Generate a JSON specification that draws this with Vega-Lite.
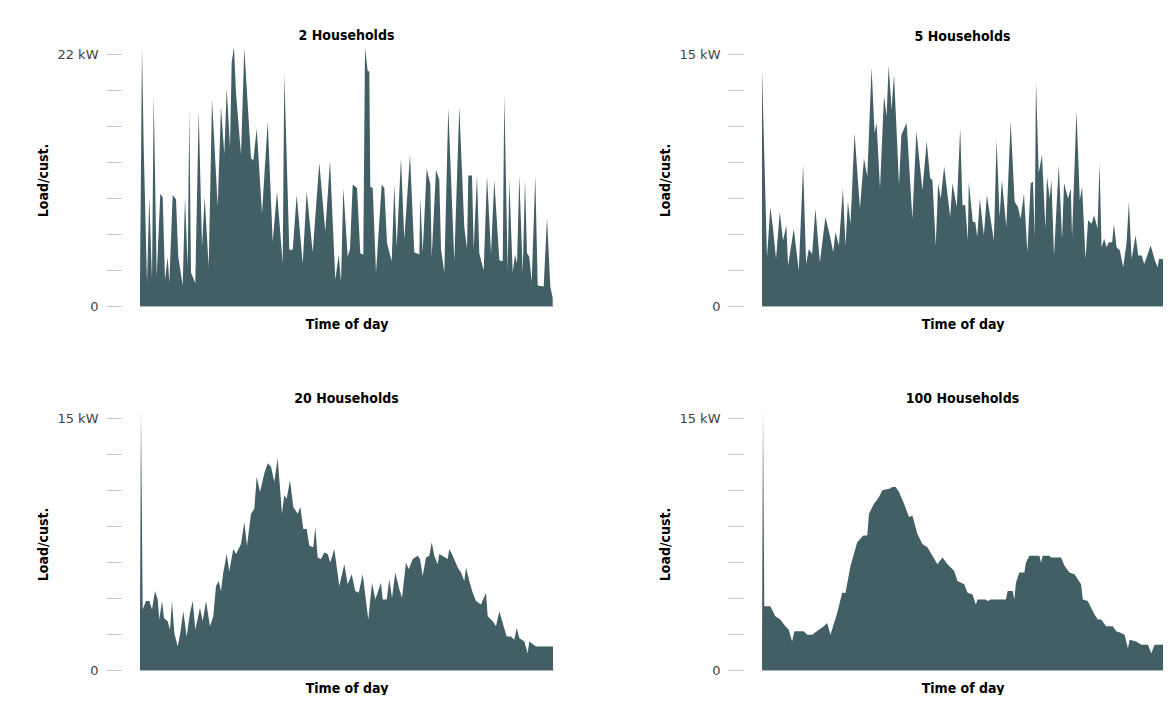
{
  "$schema": "https://vega.github.io/schema/vega-lite/v6.json",
  "padding": {"left": 36, "top": 29, "right": 0, "bottom": 0},
  "background": "white",
  "datasets": {
    "h2": [
      {"t":0,"kw":2.3},{"t":2,"kw":22.6},{"t":3.7,"kw":13.9},{"t":7,"kw":2.0},{"t":9.3,"kw":9.5},{"t":12,"kw":2.3},{"t":13.7,"kw":18.4},{"t":16.7,"kw":2.6},{"t":20.3,"kw":9.8},{"t":22.7,"kw":9.5},{"t":25,"kw":2.3},{"t":27.7,"kw":4.3},{"t":29.3,"kw":2.0},{"t":32.7,"kw":9.7},{"t":36,"kw":9.3},{"t":38.3,"kw":4.3},{"t":42.7,"kw":1.8},{"t":45,"kw":9.5},{"t":47.7,"kw":3.4},{"t":49.3,"kw":17.1},{"t":51,"kw":2.9},{"t":55.3,"kw":2.0},{"t":58.7,"kw":17.0},{"t":62,"kw":5.2},{"t":64.7,"kw":9.5},{"t":68.7,"kw":3.4},{"t":72,"kw":18.1},{"t":77.7,"kw":8.7},{"t":81,"kw":17.4},{"t":84.3,"kw":13.3},{"t":86.7,"kw":19.0},{"t":90,"kw":13.9},{"t":91.7,"kw":21.3},{"t":94,"kw":22.6},{"t":96,"kw":18.6},{"t":101,"kw":13.2},{"t":104.3,"kw":22.5},{"t":111,"kw":12.9},{"t":113.3,"kw":12.7},{"t":116.7,"kw":15.5},{"t":122,"kw":8.1},{"t":127.7,"kw":16.1},{"t":132.7,"kw":5.6},{"t":137,"kw":10.0},{"t":142.7,"kw":3.7},{"t":144.3,"kw":20.3},{"t":149.3,"kw":4.9},{"t":152.7,"kw":4.9},{"t":156.7,"kw":9.7},{"t":162.7,"kw":3.7},{"t":166.7,"kw":10.0},{"t":172.7,"kw":4.7},{"t":179.3,"kw":12.5},{"t":185.3,"kw":6.5},{"t":190,"kw":12.7},{"t":195.3,"kw":2.3},{"t":198.7,"kw":4.5},{"t":201,"kw":2.1},{"t":203.3,"kw":10.3},{"t":207.7,"kw":4.3},{"t":210,"kw":5.0},{"t":212.7,"kw":10.6},{"t":217,"kw":10.3},{"t":220.3,"kw":4.6},{"t":223.3,"kw":4.5},{"t":225,"kw":22.6},{"t":227.7,"kw":20.5},{"t":229.3,"kw":20.5},{"t":230.3,"kw":10.4},{"t":232.7,"kw":10.3},{"t":236,"kw":2.9},{"t":241.7,"kw":10.6},{"t":244.3,"kw":10.3},{"t":247,"kw":5.5},{"t":251.7,"kw":3.9},{"t":254.3,"kw":10.6},{"t":256.7,"kw":5.2},{"t":261,"kw":12.9},{"t":264.3,"kw":5.8},{"t":270,"kw":13.2},{"t":274.3,"kw":4.7},{"t":279.3,"kw":4.5},{"t":280.3,"kw":9.5},{"t":282.7,"kw":4.7},{"t":286.7,"kw":12.0},{"t":290.3,"kw":10.6},{"t":291.7,"kw":4.3},{"t":296,"kw":11.9},{"t":299.3,"kw":11.0},{"t":301,"kw":5.0},{"t":304.3,"kw":2.9},{"t":308.3,"kw":17.3},{"t":314.3,"kw":3.9},{"t":319.3,"kw":17.4},{"t":324.3,"kw":6.9},{"t":327,"kw":5.0},{"t":328.3,"kw":11.4},{"t":332,"kw":11.4},{"t":333.7,"kw":5.0},{"t":337,"kw":11.4},{"t":339.3,"kw":4.6},{"t":343.7,"kw":3.1},{"t":347,"kw":11.4},{"t":351,"kw":4.6},{"t":354.3,"kw":11.0},{"t":359.3,"kw":4.0},{"t":362.7,"kw":3.9},{"t":364.3,"kw":18.4},{"t":367.7,"kw":3.1},{"t":369.3,"kw":11.0},{"t":372.7,"kw":2.9},{"t":375,"kw":4.5},{"t":377,"kw":3.7},{"t":379.3,"kw":11.4},{"t":382.7,"kw":2.9},{"t":385,"kw":11.0},{"t":387,"kw":4.6},{"t":389.3,"kw":4.3},{"t":391.7,"kw":2.1},{"t":395.3,"kw":11.4},{"t":397.7,"kw":1.8},{"t":403.7,"kw":1.7},{"t":407,"kw":7.7},{"t":410.3,"kw":1.7},{"t":412.7,"kw":0.7}
    ],
    "h5": [
      {"t":0,"kw":14.1},{"t":5,"kw":2.9},{"t":8.3,"kw":5.9},{"t":11,"kw":4.6},{"t":14,"kw":2.8},{"t":17.7,"kw":5.6},{"t":21,"kw":3.9},{"t":24.3,"kw":4.8},{"t":26,"kw":2.4},{"t":31.7,"kw":4.6},{"t":36.7,"kw":2.1},{"t":41,"kw":8.4},{"t":44,"kw":2.5},{"t":46.7,"kw":3.4},{"t":50,"kw":3.1},{"t":53.3,"kw":5.8},{"t":57.7,"kw":2.6},{"t":63.3,"kw":5.3},{"t":67.7,"kw":4.2},{"t":71,"kw":3.2},{"t":73.3,"kw":4.4},{"t":76.7,"kw":3.6},{"t":80.7,"kw":7.0},{"t":83.3,"kw":3.6},{"t":85.7,"kw":6.2},{"t":88.3,"kw":4.9},{"t":92.3,"kw":10.3},{"t":97.7,"kw":5.8},{"t":101.7,"kw":8.8},{"t":105,"kw":7.7},{"t":109.3,"kw":14.2},{"t":112.3,"kw":10.3},{"t":114.3,"kw":10.9},{"t":117.7,"kw":7.0},{"t":121.7,"kw":12.5},{"t":124.3,"kw":11.3},{"t":126.3,"kw":14.3},{"t":129.3,"kw":11.7},{"t":131.7,"kw":13.8},{"t":136.7,"kw":7.2},{"t":139,"kw":10.2},{"t":144.3,"kw":10.9},{"t":150,"kw":5.2},{"t":154,"kw":10.4},{"t":160,"kw":6.9},{"t":164.3,"kw":9.8},{"t":167.7,"kw":7.6},{"t":170,"kw":7.5},{"t":173.3,"kw":3.6},{"t":175.7,"kw":7.3},{"t":178.3,"kw":6.4},{"t":181.7,"kw":8.3},{"t":187.7,"kw":5.3},{"t":190,"kw":7.3},{"t":194.3,"kw":5.9},{"t":197.7,"kw":10.6},{"t":200,"kw":6.0},{"t":202.7,"kw":6.0},{"t":205.3,"kw":3.9},{"t":206.3,"kw":7.4},{"t":210.3,"kw":5.0},{"t":212.7,"kw":5.0},{"t":214.7,"kw":4.1},{"t":217.3,"kw":6.4},{"t":221.3,"kw":4.2},{"t":224.3,"kw":6.6},{"t":231.3,"kw":3.9},{"t":234,"kw":9.9},{"t":237,"kw":5.3},{"t":239.3,"kw":7.5},{"t":243.7,"kw":4.7},{"t":248,"kw":11.0},{"t":252,"kw":6.2},{"t":255.3,"kw":5.9},{"t":258,"kw":5.2},{"t":261.3,"kw":6.7},{"t":264.7,"kw":3.2},{"t":268,"kw":7.3},{"t":270.3,"kw":7.4},{"t":272,"kw":4.1},{"t":273.3,"kw":13.4},{"t":276,"kw":7.9},{"t":279.3,"kw":9.0},{"t":282.7,"kw":4.6},{"t":284.3,"kw":7.7},{"t":287,"kw":6.4},{"t":288.7,"kw":7.5},{"t":291.3,"kw":3.0},{"t":296,"kw":8.4},{"t":299.3,"kw":4.0},{"t":301.3,"kw":7.3},{"t":305.3,"kw":6.4},{"t":308,"kw":7.0},{"t":309.3,"kw":4.1},{"t":313.7,"kw":11.6},{"t":317,"kw":6.3},{"t":319.3,"kw":7.1},{"t":322.7,"kw":2.8},{"t":325.3,"kw":5.1},{"t":328.7,"kw":4.9},{"t":331.3,"kw":5.4},{"t":334.7,"kw":4.6},{"t":336.7,"kw":8.5},{"t":338.7,"kw":3.5},{"t":341.3,"kw":4.0},{"t":343.7,"kw":3.5},{"t":346,"kw":3.8},{"t":349.3,"kw":3.8},{"t":351,"kw":4.9},{"t":353.7,"kw":3.5},{"t":357,"kw":3.3},{"t":360.3,"kw":2.3},{"t":363.7,"kw":3.8},{"t":366,"kw":6.2},{"t":368.7,"kw":2.8},{"t":372.7,"kw":4.2},{"t":375.3,"kw":3.0},{"t":378.7,"kw":3.0},{"t":381.3,"kw":2.5},{"t":387.7,"kw":3.6},{"t":392,"kw":2.7},{"t":394.7,"kw":2.3},{"t":396,"kw":2.8},{"t":400,"kw":2.8}
    ],
    "h20": [
      {"t":0,"kw":3.4},{"t":1,"kw":15.5},{"t":2.7,"kw":3.6},{"t":6,"kw":4.1},{"t":9.3,"kw":4.1},{"t":12,"kw":3.6},{"t":15,"kw":4.7},{"t":17.7,"kw":4.2},{"t":19.3,"kw":3.0},{"t":22,"kw":4.1},{"t":24,"kw":3.1},{"t":27.7,"kw":2.9},{"t":30,"kw":2.4},{"t":32,"kw":4.1},{"t":34.3,"kw":2.2},{"t":37.7,"kw":1.4},{"t":40.3,"kw":2.2},{"t":43.3,"kw":3.5},{"t":46.7,"kw":2.0},{"t":50,"kw":3.4},{"t":52.7,"kw":4.1},{"t":55.3,"kw":2.4},{"t":60,"kw":3.7},{"t":62.7,"kw":2.9},{"t":66,"kw":4.1},{"t":70,"kw":2.6},{"t":73.3,"kw":3.2},{"t":76,"kw":5.0},{"t":78.7,"kw":5.3},{"t":81,"kw":4.7},{"t":83.3,"kw":5.8},{"t":86.7,"kw":6.9},{"t":89.3,"kw":5.9},{"t":93.3,"kw":7.2},{"t":96,"kw":6.9},{"t":101,"kw":7.5},{"t":104.3,"kw":8.8},{"t":107,"kw":7.4},{"t":111,"kw":9.3},{"t":114.3,"kw":9.6},{"t":116.7,"kw":11.5},{"t":120,"kw":10.6},{"t":124.3,"kw":11.7},{"t":127.7,"kw":12.3},{"t":131,"kw":12.1},{"t":134.3,"kw":11.2},{"t":137.7,"kw":12.6},{"t":142,"kw":9.3},{"t":144.3,"kw":10.4},{"t":146.7,"kw":10.2},{"t":150,"kw":11.3},{"t":153.3,"kw":9.7},{"t":157.7,"kw":9.3},{"t":160.3,"kw":9.7},{"t":163.3,"kw":8.4},{"t":166.7,"kw":8.4},{"t":169.3,"kw":7.4},{"t":173.3,"kw":7.3},{"t":175.3,"kw":8.5},{"t":177.7,"kw":6.7},{"t":181,"kw":6.6},{"t":184.3,"kw":7.0},{"t":187.7,"kw":6.9},{"t":190.3,"kw":6.4},{"t":194.3,"kw":7.2},{"t":199.3,"kw":5.0},{"t":204.3,"kw":6.3},{"t":207.7,"kw":5.1},{"t":211.7,"kw":5.7},{"t":215.3,"kw":4.7},{"t":218.7,"kw":4.6},{"t":222.7,"kw":5.7},{"t":228.3,"kw":3.0},{"t":232,"kw":5.2},{"t":235.3,"kw":4.2},{"t":241,"kw":5.2},{"t":242.7,"kw":4.2},{"t":246.7,"kw":4.2},{"t":249.3,"kw":5.4},{"t":252,"kw":4.3},{"t":255.3,"kw":5.8},{"t":259.3,"kw":4.8},{"t":262,"kw":4.3},{"t":266,"kw":6.4},{"t":268.7,"kw":6.0},{"t":272.7,"kw":6.6},{"t":277.7,"kw":6.8},{"t":280,"kw":6.6},{"t":282.7,"kw":5.6},{"t":286,"kw":6.7},{"t":289.3,"kw":6.8},{"t":291.7,"kw":7.6},{"t":294.3,"kw":6.8},{"t":297.7,"kw":6.3},{"t":299.3,"kw":6.9},{"t":307.7,"kw":6.6},{"t":309.3,"kw":7.2},{"t":312.7,"kw":6.8},{"t":317.7,"kw":6.1},{"t":321,"kw":5.8},{"t":324.3,"kw":5.3},{"t":326,"kw":6.1},{"t":329.3,"kw":5.3},{"t":332.7,"kw":4.6},{"t":336,"kw":4.1},{"t":341,"kw":3.9},{"t":346,"kw":4.6},{"t":347.7,"kw":3.2},{"t":352.7,"kw":2.9},{"t":356,"kw":2.6},{"t":359.3,"kw":3.5},{"t":362.7,"kw":2.8},{"t":366.7,"kw":2.0},{"t":371,"kw":2.0},{"t":374.3,"kw":1.8},{"t":376.7,"kw":2.5},{"t":379.3,"kw":1.9},{"t":384.3,"kw":1.7},{"t":387.7,"kw":1.0},{"t":389.3,"kw":1.7},{"t":396,"kw":1.4},{"t":413,"kw":1.4}
    ],
    "h100": [
      {"t":0,"kw":1.6},{"t":1,"kw":15.5},{"t":2.3,"kw":3.8},{"t":8.3,"kw":3.8},{"t":13.3,"kw":3.2},{"t":18.3,"kw":3.0},{"t":23.3,"kw":2.6},{"t":26.7,"kw":2.4},{"t":30,"kw":1.7},{"t":32.3,"kw":2.3},{"t":41.7,"kw":2.3},{"t":45,"kw":2.1},{"t":50,"kw":2.1},{"t":56.7,"kw":2.4},{"t":61.7,"kw":2.6},{"t":65,"kw":2.8},{"t":68.3,"kw":2.1},{"t":75,"kw":3.4},{"t":80,"kw":4.6},{"t":83.3,"kw":4.6},{"t":88.3,"kw":6.2},{"t":95,"kw":7.6},{"t":101,"kw":8.0},{"t":105,"kw":8.0},{"t":106.7,"kw":9.3},{"t":111.7,"kw":9.9},{"t":116.7,"kw":10.3},{"t":120,"kw":10.7},{"t":127.7,"kw":10.8},{"t":130,"kw":10.9},{"t":133.3,"kw":10.9},{"t":136.7,"kw":10.6},{"t":141.7,"kw":9.9},{"t":146.7,"kw":9.1},{"t":150,"kw":9.2},{"t":155,"kw":8.1},{"t":160,"kw":7.5},{"t":165,"kw":7.3},{"t":170,"kw":6.8},{"t":175,"kw":6.3},{"t":180,"kw":6.7},{"t":185,"kw":6.3},{"t":188.3,"kw":6.1},{"t":191.7,"kw":5.9},{"t":195,"kw":5.3},{"t":201.7,"kw":5.1},{"t":205,"kw":4.6},{"t":210,"kw":4.5},{"t":213.3,"kw":3.9},{"t":215,"kw":4.2},{"t":223.3,"kw":4.2},{"t":225,"kw":4.1},{"t":228.3,"kw":4.2},{"t":243.3,"kw":4.2},{"t":245,"kw":4.7},{"t":250,"kw":4.7},{"t":251.7,"kw":4.2},{"t":253.3,"kw":5.2},{"t":256.7,"kw":5.8},{"t":261.7,"kw":5.8},{"t":263.3,"kw":6.4},{"t":266.7,"kw":6.8},{"t":276.7,"kw":6.8},{"t":278.3,"kw":6.4},{"t":280,"kw":6.8},{"t":286.7,"kw":6.8},{"t":288.3,"kw":6.7},{"t":298.3,"kw":6.7},{"t":301.7,"kw":6.2},{"t":306.7,"kw":5.8},{"t":311.7,"kw":5.7},{"t":315,"kw":5.4},{"t":318.3,"kw":5.1},{"t":320,"kw":4.2},{"t":325,"kw":4.1},{"t":328.3,"kw":3.7},{"t":331.7,"kw":3.3},{"t":335,"kw":3.0},{"t":338.3,"kw":3.0},{"t":343.3,"kw":2.6},{"t":350,"kw":2.6},{"t":353.3,"kw":2.3},{"t":358.3,"kw":2.2},{"t":361.7,"kw":2.1},{"t":365,"kw":1.3},{"t":366.7,"kw":1.8},{"t":373.3,"kw":1.7},{"t":378.3,"kw":1.5},{"t":385,"kw":1.5},{"t":388.3,"kw":1.0},{"t":391.7,"kw":1.5},{"t":400,"kw":1.5}
    ]
  },
  "vconcat": [
    {
      "hconcat": [
        {
          "width": 413, "height": 252,
          "title": "2 Households",
          "data": {"name": "h2"},
          "mark": {"type": "area", "color": "#435f66", "clip": false},
          "encoding": {
            "x": {"field": "t", "type": "quantitative", "scale": {"domain": [0, 413], "nice": false, "zero": false}, "axis": {"title": "Time of day"}},
            "y": {"field": "kw", "type": "quantitative", "scale": {"domain": [0, 22], "nice": false}, "axis": {"title": "Load/cust.", "values": [0, 3.142857, 6.285714, 9.428571, 12.571429, 15.714286, 18.857143, 22], "labelExpr": "datum.value == 0 ? '0' : (datum.value > 21 ? '22 kW' : '')"}}
          }
        },
        {
          "width": 401, "height": 252,
          "title": "5 Households",
          "data": {"name": "h5"},
          "mark": {"type": "area", "color": "#435f66", "clip": false},
          "encoding": {
            "x": {"field": "t", "type": "quantitative", "scale": {"domain": [0, 400], "nice": false, "zero": false}, "axis": {"title": "Time of day"}},
            "y": {"field": "kw", "type": "quantitative", "scale": {"domain": [0, 15], "nice": false}, "axis": {"title": "Load/cust.", "values": [0, 2.142857, 4.285714, 6.428571, 8.571429, 10.714286, 12.857143, 15], "labelExpr": "datum.value == 0 ? '0' : (datum.value > 14.5 ? '15 kW' : '')"}}
          }
        }
      ]
    },
    {
      "hconcat": [
        {
          "width": 413, "height": 252,
          "title": "20 Households",
          "data": {"name": "h20"},
          "mark": {"type": "area", "color": "#435f66", "clip": false},
          "encoding": {
            "x": {"field": "t", "type": "quantitative", "scale": {"domain": [0, 413], "nice": false, "zero": false}, "axis": {"title": "Time of day"}},
            "y": {"field": "kw", "type": "quantitative", "scale": {"domain": [0, 15], "nice": false}, "axis": {"title": "Load/cust.", "values": [0, 2.142857, 4.285714, 6.428571, 8.571429, 10.714286, 12.857143, 15], "labelExpr": "datum.value == 0 ? '0' : (datum.value > 14.5 ? '15 kW' : '')"}}
          }
        },
        {
          "width": 401, "height": 252,
          "title": "100 Households",
          "data": {"name": "h100"},
          "mark": {"type": "area", "color": "#435f66", "clip": false},
          "encoding": {
            "x": {"field": "t", "type": "quantitative", "scale": {"domain": [0, 400], "nice": false, "zero": false}, "axis": {"title": "Time of day"}},
            "y": {"field": "kw", "type": "quantitative", "scale": {"domain": [0, 15], "nice": false}, "axis": {"title": "Load/cust.", "values": [0, 2.142857, 4.285714, 6.428571, 8.571429, 10.714286, 12.857143, 15], "labelExpr": "datum.value == 0 ? '0' : (datum.value > 14.5 ? '15 kW' : '')"}}
          }
        }
      ]
    }
  ],
  "spacing": 60,
  "config": {
    "concat": {"spacing": 105},
    "view": {"stroke": null},
    "title": {"font": "DejaVu Sans Condensed", "fontSize": 14, "fontWeight": "bold", "color": "#000000", "offset": 4},
    "axisX": {"labels": false, "ticks": false, "grid": false, "domain": true, "domainColor": "#a9b6ba", "domainWidth": 1, "titlePadding": 11},
    "axisY": {"grid": false, "domain": false, "offset": 19, "tickSize": 15, "tickColor": "#c9c9d9", "tickWidth": 1, "labelPadding": 8, "labelOverlap": false, "titlePadding": 6},
    "axis": {"titleFont": "DejaVu Sans Condensed", "titleFontSize": 14, "titleFontWeight": "bold", "titleColor": "#000000", "labelFont": "DejaVu Sans", "labelFontSize": 13, "labelColor": "#444444"}
  }
}
